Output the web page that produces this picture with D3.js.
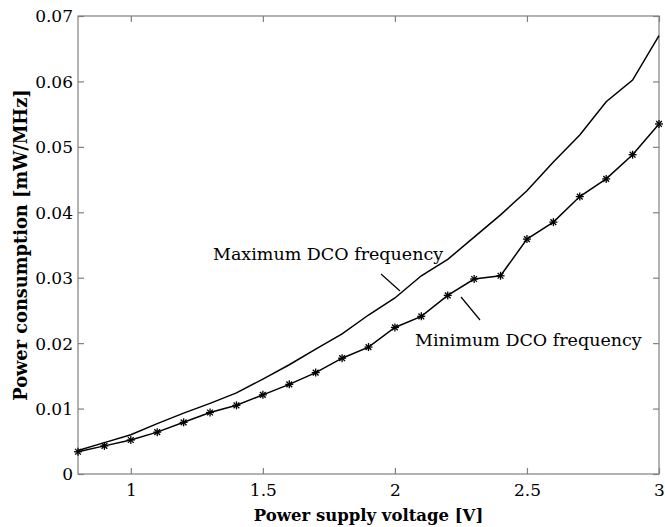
<!DOCTYPE html>
<html><head><meta charset="utf-8">
<script src="https://cdn.jsdelivr.net/npm/d3@7"></script>
<style>body{margin:0;background:#fff}svg{display:block}</style>
</head><body>
<svg id="c" width="665" height="527"></svg>
<script>
const voltage = [0.8,0.9,1.0,1.1,1.2,1.3,1.4,1.5,1.6,1.7,1.8,1.9,2.0,2.1,2.2,2.3,2.4,2.5,2.6,2.7,2.8,2.9,3.0];
const maxFreq = [0.0036,0.0048,0.0060,0.0077,0.0093,0.0108,0.0124,0.0145,0.0167,0.0191,0.0214,0.0243,0.0269,0.0303,0.0328,0.0362,0.0396,0.0433,0.0477,0.0518,0.0569,0.0602,0.0670];
const minFreq = [0.0034,0.0043,0.0052,0.0064,0.0079,0.0094,0.0105,0.0121,0.0137,0.0155,0.0177,0.0194,0.0224,0.0241,0.0273,0.0298,0.0303,0.0359,0.0385,0.0424,0.0451,0.0488,0.0535];
const xTicks = [1,1.5,2,2.5,3];
const xTickLabels = ["1","1.5","2","2.5","3"];
const yTicks = [0,0.01,0.02,0.03,0.04,0.05,0.06,0.07];
const yTickLabels = ["0","0.01","0.02","0.03","0.04","0.05","0.06","0.07"];
const xTitle = "Power supply voltage [V]";
const yTitle = "Power consumption [mW/MHz]";
const maxLabel = "Maximum DCO frequency";
const minLabel = "Minimum DCO frequency";

const svg = d3.select("#c");
const L=78,R=659,T=16,B=474;
const x = d3.scaleLinear().domain([0.8,3]).range([L,R]);
const y = d3.scaleLinear().domain([0,0.07]).range([B,T]);
const font = "'DejaVu Serif', serif";
const axisCol = "#808080";
const tl = 6;

// box
svg.append("rect").attr("x",L).attr("y",T).attr("width",R-L).attr("height",B-T)
  .attr("fill","none").attr("stroke",axisCol).attr("stroke-width",1.2);

const gx = svg.append("g").attr("transform",`translate(0,${B})`)
  .call(d3.axisBottom(x).tickValues(xTicks).tickFormat((d,i)=>xTickLabels[i]).tickSize(-tl).tickPadding(10));
const gxt = svg.append("g").attr("transform",`translate(0,${T})`)
  .call(d3.axisTop(x).tickValues(xTicks).tickFormat("").tickSize(-tl));
const gy = svg.append("g").attr("transform",`translate(${L},0)`)
  .call(d3.axisLeft(y).tickValues(yTicks).tickFormat((d,i)=>yTickLabels[i]).tickSize(-tl).tickPadding(5));
const gyr = svg.append("g").attr("transform",`translate(${R},0)`)
  .call(d3.axisRight(y).tickValues(yTicks).tickFormat("").tickSize(-tl));
[gx,gxt,gy,gyr].forEach(g=>{
  g.select(".domain").remove();
  g.selectAll(".tick line").attr("stroke",axisCol).attr("stroke-width",1.2);
  g.selectAll("text").attr("font-family",font).attr("font-size",17).attr("fill","#000");
});
gy.selectAll("text").attr("dy","0.35em");

const line = d3.line().x((d,i)=>x(voltage[i])).y(d=>y(d));
svg.append("path").datum(maxFreq).attr("d",line).attr("fill","none").attr("stroke","#000").attr("stroke-width",1.5);
svg.append("path").datum(minFreq).attr("d",line).attr("fill","none").attr("stroke","#000").attr("stroke-width",1.5);

// asterisk markers
const r=4;
const mk = svg.append("g").selectAll("g").data(minFreq).join("g")
  .attr("transform",(d,i)=>`translate(${x(voltage[i])},${y(d)})`);
[[-r,0,r,0],[0,-r,0,r],[-r*0.72,-r*0.72,r*0.72,r*0.72],[-r*0.72,r*0.72,r*0.72,-r*0.72]].forEach(s=>{
  mk.append("line").attr("x1",s[0]).attr("y1",s[1]).attr("x2",s[2]).attr("y2",s[3])
    .attr("stroke","#000").attr("stroke-width",1.3);
});

// annotations
svg.append("text").attr("x",213).attr("y",260).attr("font-family",font).attr("font-size",17.5).text(maxLabel);
svg.append("line").attr("x1",381).attr("y1",274).attr("x2",400).attr("y2",291).attr("stroke","#000").attr("stroke-width",1.2);
svg.append("text").attr("x",415).attr("y",346).attr("font-family",font).attr("font-size",17.5).text(minLabel);
svg.append("line").attr("x1",461).attr("y1",297).attr("x2",480).attr("y2",320).attr("stroke","#000").attr("stroke-width",1.2);

// titles
svg.append("text").attr("x",(L+R)/2).attr("y",521).attr("text-anchor","middle")
  .attr("font-family",font).attr("font-weight","bold").attr("font-size",16.5).text(xTitle);
svg.append("text").attr("transform",`translate(27,${(T+B)/2}) rotate(-90)`).attr("text-anchor","middle")
  .attr("font-family",font).attr("font-weight","bold").attr("font-size",17.8).text(yTitle);
</script>
</body></html>
